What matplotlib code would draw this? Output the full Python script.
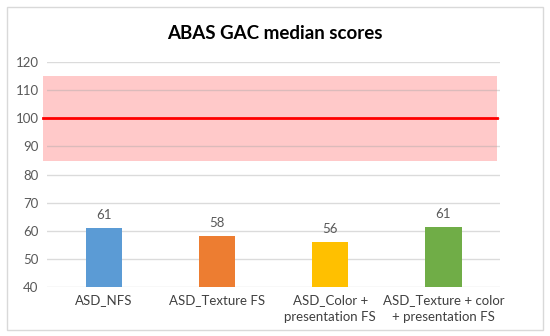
import matplotlib.pyplot as plt
from matplotlib.patches import Rectangle

# Data
categories = ['ASD_NFS', 'ASD_Texture FS', 'ASD_Color +\npresentation FS',
              'ASD_Texture + color\n+ presentation FS']
medians = [61, 58, 56, 61.3]
labels = ['61', '58', '56', '61']
bar_colors = ['#5B9BD5', '#ED7D31', '#FFC000', '#70AD47']
norm_mean = 100
norm_low, norm_high = 85, 115

plt.rcParams['font.family'] = ['Lato', 'DejaVu Sans']

fig = plt.figure(figsize=(5.5, 3.36), dpi=100, facecolor='white')
ax = fig.add_axes([0.0855, 0.146, 0.8236, 0.669])

# outer chart border
fig.patches.append(Rectangle((7 / 550, 6 / 336), 536 / 550, 323 / 336,
                             transform=fig.transFigure, fill=False,
                             edgecolor='#D9D9D9', linewidth=1))

ax.axhspan(norm_low, norm_high, xmin=-0.009, xmax=0.993, color='#FFC9C9',
           zorder=0.2, clip_on=False, linewidth=0)
ax.set_yticks(range(40, 121, 10))
ax.grid(axis='y', color='#A6A6A6', alpha=0.4, linewidth=1)
ax.set_axisbelow(True)
ax.axhline(norm_mean, xmin=-0.009, xmax=0.993, color='#FF0000', linewidth=2,
           zorder=3, clip_on=False)

x = range(len(categories))
ax.bar(x, [m - 40 for m in medians], bottom=40, width=0.32,
       color=bar_colors, zorder=2)
for xi, m, lab in zip(x, medians, labels):
    ax.text(xi, m + 2.5, lab, ha='center', va='bottom', fontsize=9.5,
            color='#595959')

ax.set_xlim(-0.5, 3.5)
ax.set_ylim(40, 120)
ax.set_xticks(list(x))
ax.set_xticklabels(categories, fontsize=9.5, color='#404040', linespacing=1.55)
ax.tick_params(axis='y', labelsize=9.5, labelcolor='#595959', length=0, pad=6)
ax.tick_params(axis='x', length=0, pad=5)
for s in ax.spines.values():
    s.set_visible(False)

fig.text(0.5, 0.9, 'ABAS GAC median scores', ha='center', va='center',
         fontsize=13.5, fontweight='bold', color='#000000')

plt.savefig('out.png', dpi=100, facecolor='white')
